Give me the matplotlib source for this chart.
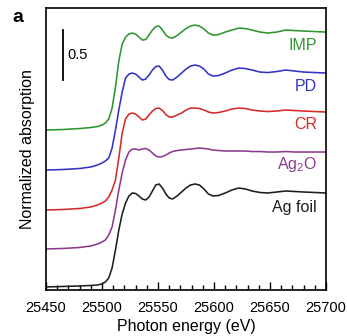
import matplotlib
matplotlib.use("Agg")
import matplotlib.pyplot as plt
from matplotlib.ticker import MultipleLocator

plt.rcParams['font.family'] = ['Liberation Sans', 'DejaVu Sans']
plt.rcParams['mathtext.fontset'] = 'custom'
plt.rcParams['mathtext.rm'] = 'Liberation Sans'
plt.rcParams['mathtext.default'] = 'regular'

# photon energy grid (eV)
energy = [25450, 25465, 25480, 25490, 25496, 25500, 25503, 25506, 25509, 25512,
          25515, 25518, 25521, 25524, 25527, 25530, 25533, 25536, 25539, 25542,
          25545, 25548, 25551, 25554, 25557, 25560, 25563, 25567, 25571, 25575,
          25579, 25583, 25587, 25591, 25595, 25599, 25604, 25610, 25616, 25622,
          25628, 25634, 25641, 25648, 25656, 25664, 25672, 25680, 25690, 25700]

# stacked, normalized absorption (offsets included)
ag_foil = [0.03, 0.035, 0.04, 0.045, 0.05, 0.06, 0.08, 0.12, 0.22, 0.40,
           0.60, 0.76, 0.87, 0.94, 0.97, 0.965, 0.94, 0.91, 0.90, 0.93,
           0.99, 1.05, 1.06, 1.02, 0.96, 0.92, 0.91, 0.94, 0.98, 1.02,
           1.05, 1.06, 1.05, 1.01, 0.96, 0.94, 0.945, 0.97, 1.00, 1.02,
           1.01, 0.99, 0.975, 0.97, 0.98, 0.99, 0.985, 0.98, 0.975, 0.97]
ag2o = [0.41, 0.415, 0.425, 0.44, 0.46, 0.48, 0.50, 0.55, 0.63, 0.80,
        1.00, 1.17, 1.30, 1.38, 1.41, 1.41, 1.40, 1.41, 1.415, 1.40,
        1.37, 1.34, 1.33, 1.335, 1.35, 1.37, 1.385, 1.395, 1.40, 1.405,
        1.41, 1.415, 1.42, 1.415, 1.41, 1.40, 1.395, 1.39, 1.39, 1.39,
        1.39, 1.385, 1.385, 1.38, 1.38, 1.385, 1.38, 1.38, 1.38, 1.38]
cr = [0.80, 0.805, 0.815, 0.83, 0.85, 0.87, 0.89, 0.93, 1.00, 1.10,
      1.32, 1.57, 1.71, 1.76, 1.77, 1.76, 1.73, 1.70, 1.71, 1.75,
      1.79, 1.815, 1.82, 1.795, 1.755, 1.73, 1.73, 1.75, 1.77, 1.80,
      1.82, 1.82, 1.815, 1.80, 1.78, 1.77, 1.775, 1.79, 1.81, 1.82,
      1.815, 1.80, 1.79, 1.785, 1.79, 1.80, 1.795, 1.79, 1.785, 1.78]
pd_ = [1.20, 1.205, 1.215, 1.23, 1.25, 1.27, 1.29, 1.32, 1.42, 1.60,
       1.80, 1.98, 2.12, 2.16, 2.17, 2.16, 2.13, 2.10, 2.11, 2.15,
       2.20, 2.235, 2.24, 2.20, 2.14, 2.105, 2.10, 2.13, 2.17, 2.21,
       2.24, 2.25, 2.24, 2.21, 2.16, 2.14, 2.145, 2.17, 2.20, 2.22,
       2.215, 2.20, 2.18, 2.175, 2.185, 2.20, 2.19, 2.18, 2.175, 2.17]
imp = [1.60, 1.605, 1.615, 1.625, 1.635, 1.65, 1.67, 1.71, 1.82, 2.03,
       2.29, 2.46, 2.53, 2.56, 2.57, 2.56, 2.53, 2.50, 2.505, 2.55,
       2.60, 2.635, 2.64, 2.60, 2.55, 2.525, 2.52, 2.545, 2.58, 2.615,
       2.64, 2.65, 2.64, 2.61, 2.57, 2.55, 2.555, 2.58, 2.60, 2.62,
       2.615, 2.60, 2.58, 2.57, 2.58, 2.60, 2.595, 2.59, 2.585, 2.58]

names = ['Ag foil', 'Ag$_2$O', 'CR', 'PD', 'IMP']
series = [ag_foil, ag2o, cr, pd_, imp]
colors = ['#1e1e1e', '#8b3a8f', '#d42a2a', '#3333c4', '#2f962f']
label_y = [0.82, 1.26, 1.66, 2.04, 2.45]

fig = plt.figure(figsize=(3.47, 3.36), dpi=100)
ax = fig.add_axes([0.1326, 0.137, 0.807, 0.839])

for vals, c in zip(series, colors):
    ax.plot(energy, vals, color=c, lw=1.15, solid_joinstyle='round')

for name, c, yy in zip(names, colors, label_y):
    ax.text(25692, yy, name, color=c, fontsize=11.5, ha='right', va='center')

# scale bar
ax.plot([25465, 25465], [2.10, 2.60], color='black', lw=1.3)
ax.text(25469, 2.35, '0.5', fontsize=10.5, ha='left', va='center')

ax.set_xlim(25450, 25700)
ax.set_ylim(0, 2.82)
ax.set_yticks([])
ax.xaxis.set_major_locator(MultipleLocator(50))
ax.xaxis.set_minor_locator(MultipleLocator(10))
ax.tick_params(axis='x', which='major', direction='in', length=6, width=1.0, labelsize=10.5, pad=8)
ax.tick_params(axis='x', which='minor', direction='in', length=3.5, width=1.0)
for s in ax.spines.values():
    s.set_linewidth(1.2)

ax.set_xlabel('Photon energy (eV)', fontsize=11.5, labelpad=3)
ax.set_ylabel('Normalized absorption', fontsize=11.5, labelpad=8)
fig.text(0.035, 0.935, 'a', fontsize=14, fontweight='bold')

fig.savefig('out.png', dpi=100)
